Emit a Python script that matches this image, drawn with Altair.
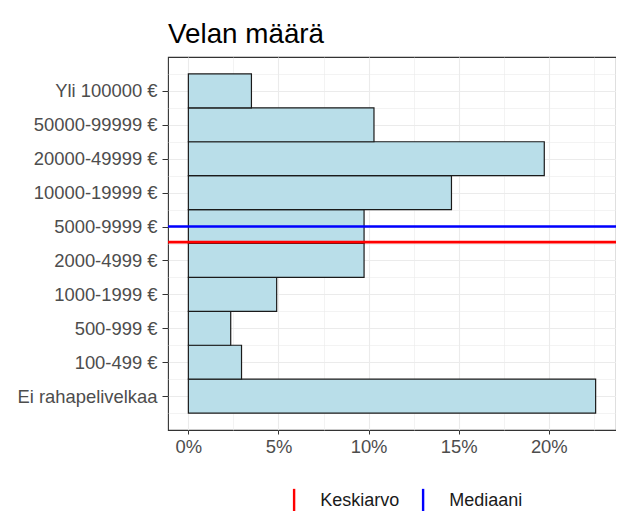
import json
import altair as alt
import pandas as pd

# ---- data (bottom to top, as in the reference) ----
categories = ["Ei rahapelivelkaa", "100-499 €", "500-999 €", "1000-1999 €",
              "2000-4999 €", "5000-9999 €", "10000-19999 €", "20000-49999 €",
              "50000-99999 €", "Yli 100000 €"]
shares = [22.6, 2.95, 2.35, 4.9, 9.75, 9.75, 14.6, 19.75, 10.3, 3.5]  # percent

stat_names = ["Keskiarvo", "Mediaani"]
stat_positions = [5.54, 6.0]          # position on the category index scale
stat_colors = ["#FF0000", "#0000FF"]

x_ticks = [0, 5, 10, 15, 20]
x_minor = [2.5, 7.5, 12.5, 17.5, 22.5]

bars = pd.DataFrame({"cat": categories, "share": shares,
                     "idx": list(range(1, len(categories) + 1))})
stats = pd.DataFrame({"stat": stat_names, "pos": stat_positions})

n = len(categories)
y_ticks = list(range(1, n + 1))
y_minor = [i - 0.5 for i in range(1, n + 2)]
label_expr = json.dumps(categories) + "[datum.value - 1]"

FONT = "Liberation Sans"
FS = 18.4
W, H = 448, 373
x_dom = [-1.13, 23.73]
y_dom = [0, n + 1]

xscale = alt.Scale(domain=x_dom, nice=False, zero=False)
yscale = alt.Scale(domain=y_dom, nice=False, zero=False)

# minor grid layer (invisible points, only axes with grids)
minor = alt.Chart(bars).mark_point(opacity=0).encode(
    x=alt.X("share:Q", scale=xscale,
            axis=alt.Axis(values=x_minor, grid=True, gridColor="#EBEBEB", gridWidth=0.6,
                          labels=False, ticks=False, domain=False, title=None, orient="bottom")),
    y=alt.Y("idx:Q", scale=yscale,
            axis=alt.Axis(values=y_minor, grid=True, gridColor="#EBEBEB", gridWidth=0.6,
                          labels=False, ticks=False, domain=False, title=None, orient="left")),
)

bar_layer = alt.Chart(bars).transform_calculate(
    lo="datum.idx - 0.5", hi="datum.idx + 0.5", zero="0"
).mark_bar(fill="#B9DEE9", stroke="#1A1A1A", strokeWidth=1.2).encode(
    x=alt.X("zero:Q", scale=xscale,
            axis=alt.Axis(values=x_ticks, labelExpr="datum.value + '%'", grid=True,
                          gridColor="#EBEBEB", gridWidth=1.1, domain=False,
                          tickColor="#333333", tickSize=4, labelPadding=3,
                          labelFont=FONT, labelFontSize=FS, labelColor="#4D4D4D",
                          title=None, orient="bottom")),
    x2="share:Q",
    y=alt.Y("lo:Q", scale=yscale,
            axis=alt.Axis(values=y_ticks, labelExpr=label_expr, grid=True,
                          gridColor="#EBEBEB", gridWidth=1.1, domain=False,
                          tickColor="#333333", tickSize=6, labelPadding=5,
                          labelFont=FONT, labelFontSize=FS, labelColor="#4D4D4D",
                          title=None, orient="left")),
    y2="hi:Q",
)

rule_layer = alt.Chart(stats).mark_rule(strokeWidth=2.6).encode(
    y=alt.Y("pos:Q", scale=yscale, axis=None),
    color=alt.Color("stat:N", scale=alt.Scale(domain=stat_names, range=stat_colors),
                    title=None,
                    legend=alt.Legend(orient="none", direction="horizontal",
                                      legendX=112.6, legendY=430,
                                      symbolType="M0,-1L0,1", symbolSize=576,
                                      symbolStrokeWidth=2.4, labelOffset=12.7,
                                      columnPadding=10, labelFont=FONT,
                                      labelFontSize=18, labelColor="#1A1A1A")),
)

chart = alt.layer(minor, bar_layer, rule_layer).resolve_axis(
    x="independent", y="independent"
).properties(
    width=W, height=H,
    title=alt.Title("Velan määrä", anchor="start", frame="group", font=FONT,
                    fontSize=27.8, fontWeight="normal", color="#000000", offset=8),
    autosize=alt.AutoSizeParams(type="none"),
    padding={"left": 160, "top": 49, "right": 0, "bottom": 81},
).configure_view(
    stroke="#333333", strokeWidth=1.1
)

chart.save("out.html", embed_options={"renderer": "svg", "actions": False})
